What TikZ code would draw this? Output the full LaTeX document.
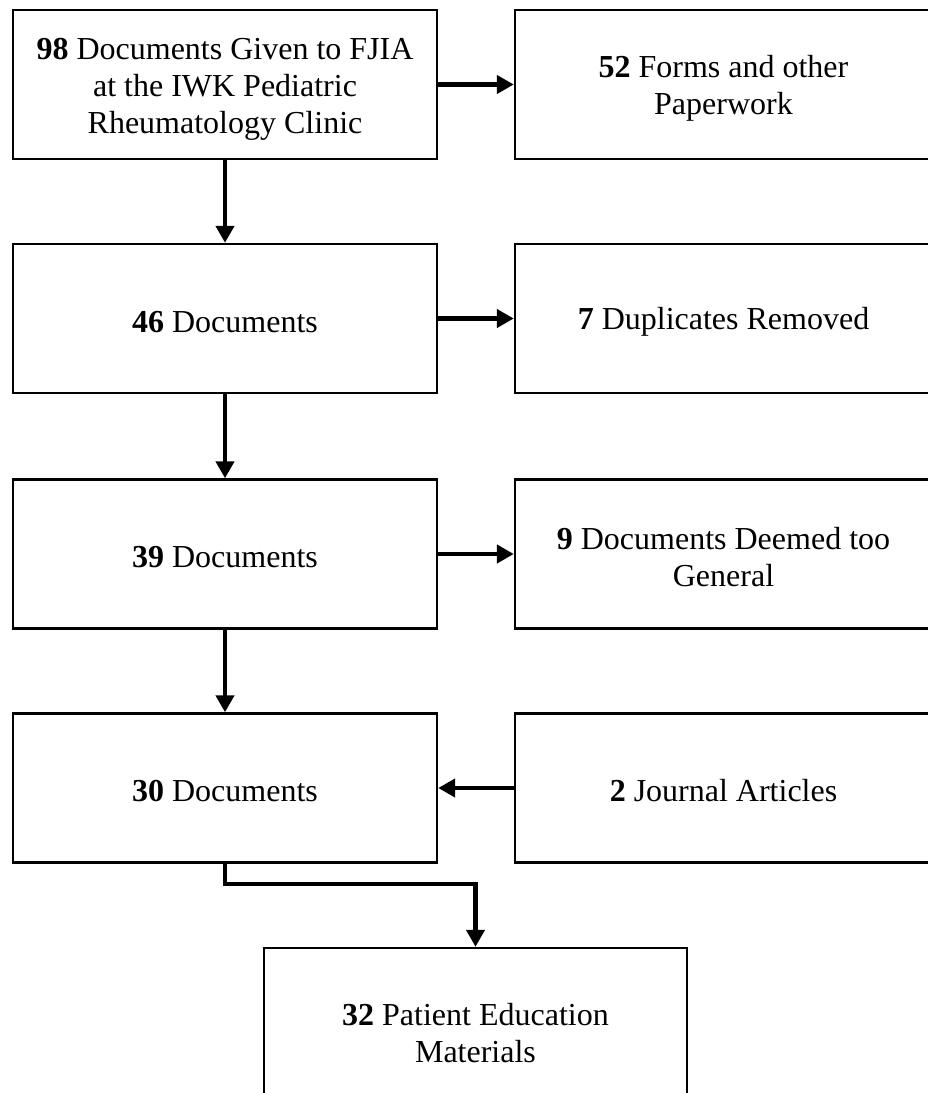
\documentclass[tikz,border=0pt]{standalone}
\usepackage{fontspec}
\setmainfont{Liberation Serif}
\usetikzlibrary{arrows.meta}
\newcommand{\lowr}[1]{\rule{0pt}{#1pt}}
\begin{document}
\begin{tikzpicture}[x=1pt,y=-1pt,
  box/.style={draw,line width=2.7pt,minimum width=424pt,minimum height=149pt,
    align=center,font=\fontsize{32}{37}\selectfont,inner sep=0pt,outer sep=1.2pt},
  rbox/.style={box,minimum width=417pt},
  arr/.style={line width=4.2pt,-{Triangle[length=17pt 0 0,width=18pt 0 0]}}]
\useasboundingbox (0,0) rectangle (928,1093);
\node[box] (n1) at (225,84.5) {\lowr{31}\textbf{98} Documents Given to FJIA\\at the IWK Pediatric\\Rheumatology Clinic};
\node[rbox] (r1) at (723.5,84.5) {\lowr{29}\textbf{52} Forms and other\\Paperwork};
\node[box] (n2) at (225,318.5) {\lowr{28}\textbf{46} Documents};
\node[rbox] (r2) at (723.5,318.5) {\lowr{28}\textbf{7} Duplicates Removed};
\node[box] (n3) at (225,554) {\lowr{28}\textbf{39} Documents};
\node[rbox] (r3) at (723.5,554) {\lowr{29}\textbf{9} Documents Deemed too\\General};
\node[box] (n4) at (225,788) {\lowr{28}\textbf{30} Documents};
\node[rbox] (r4) at (723.5,788) {\lowr{28}\textbf{2} Journal Articles};
\node[box,minimum width=423pt,minimum height=164pt] (n5) at (475.5,1030) {\lowr{28}\textbf{32} Patient Education\\Materials};
\draw[arr] (n1.east) -- (r1.west);
\draw[arr] (n2.east) -- (r2.west);
\draw[arr] (n3.east) -- (r3.west);
\draw[arr] (r4.west) -- (n4.east);
\draw[arr] (n1.south) -- (n2.north);
\draw[arr] (n2.south) -- (n3.north);
\draw[arr] (n3.south) -- (n4.north);
\draw[arr] (n4.south) -- ++(0,20) -| (n5.north);
\end{tikzpicture}
\end{document}
